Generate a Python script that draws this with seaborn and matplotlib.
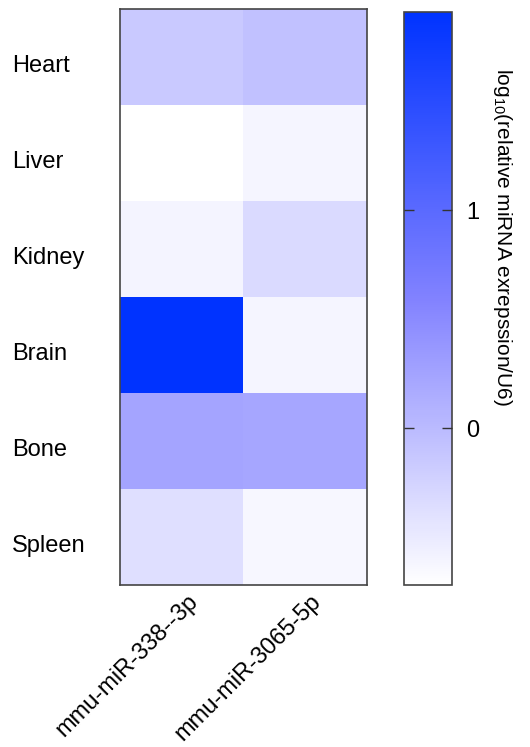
import numpy as np
import pandas as pd
import seaborn as sns
import matplotlib.pyplot as plt
from matplotlib.colors import LinearSegmentedColormap
from matplotlib.transforms import ScaledTranslation, blended_transform_factory

tissues = ["Heart", "Liver", "Kidney", "Brain", "Bone", "Spleen"]
mirnas = ["mmu-miR-338--3p", "mmu-miR-3065-5p"]
mir338 = [-0.15, -0.72, -0.60, 1.91, 0.24, -0.38]
mir3065 = [-0.07, -0.61, -0.32, -0.61, 0.22, -0.63]

df = pd.DataFrame({mirnas[0]: mir338, mirnas[1]: mir3065}, index=tissues)

sns.set_style("ticks")
plt.rcParams["font.family"] = ["Liberation Sans", "DejaVu Sans"]
plt.rcParams.update({
    "text.color": "black",
    "axes.labelcolor": "black",
    "xtick.color": "black",
    "ytick.color": "black",
    "mathtext.fontset": "custom",
    "mathtext.rm": "Liberation Sans",
    "mathtext.it": "Liberation Sans:italic",
})

# white -> lavender -> bright blue
cmap = LinearSegmentedColormap.from_list(
    "wb", ["#ffffff", "#8282ff", "#0033ff"])

fig = plt.figure(figsize=(5.3, 7.47), dpi=100)
ax = fig.add_axes([0.226, 0.217, 0.466, 0.771])
cax = fig.add_axes([0.762, 0.217, 0.091, 0.767])

sns.heatmap(df, ax=ax, cbar_ax=cax, cmap=cmap, vmin=-0.72, vmax=1.91,
            cbar_kws={"ticks": [0, 1]})

for s in ax.spines.values():
    s.set_visible(True)
    s.set_color("#444444")
    s.set_linewidth(1.2)

ax.tick_params(axis="both", length=0)
ax.set_xlabel("")
ax.set_ylabel("")

# row names, left aligned at the figure edge
ax.set_yticklabels([])
trans = blended_transform_factory(fig.transFigure, ax.transData)
trans = trans + ScaledTranslation(0, -0.15, fig.dpi_scale_trans)
for i, name in enumerate(tissues):
    ax.text(12 / 530, i + 0.5, name, transform=trans, ha="left",
            va="baseline", fontsize=17)

ax.set_xticklabels(mirnas, rotation=45, ha="right", rotation_mode="anchor",
                   fontsize=17)
ax.tick_params(axis="x", pad=4)
right = ScaledTranslation(0.05, 0, fig.dpi_scale_trans)
for lbl in ax.get_xticklabels():
    lbl.set_transform(lbl.get_transform() + right)

cb = ax.collections[0].colorbar
cb.outline.set_edgecolor("#444444")
cb.outline.set_linewidth(1.2)
cax.set_axisbelow(False)
cax.tick_params(axis="y", which="major", direction="in", length=7, width=1,
                color="#333333", left=True, right=True, labelleft=False,
                labelright=True, labelsize=17, pad=10)
cb.set_label("log$_{10}$(relative miRNA exrepssion/U6)", rotation=270,
             fontsize=15, va="center")
cax.yaxis.set_label_coords(2.05, 0.607)

fig.savefig("out.png", dpi=100)
